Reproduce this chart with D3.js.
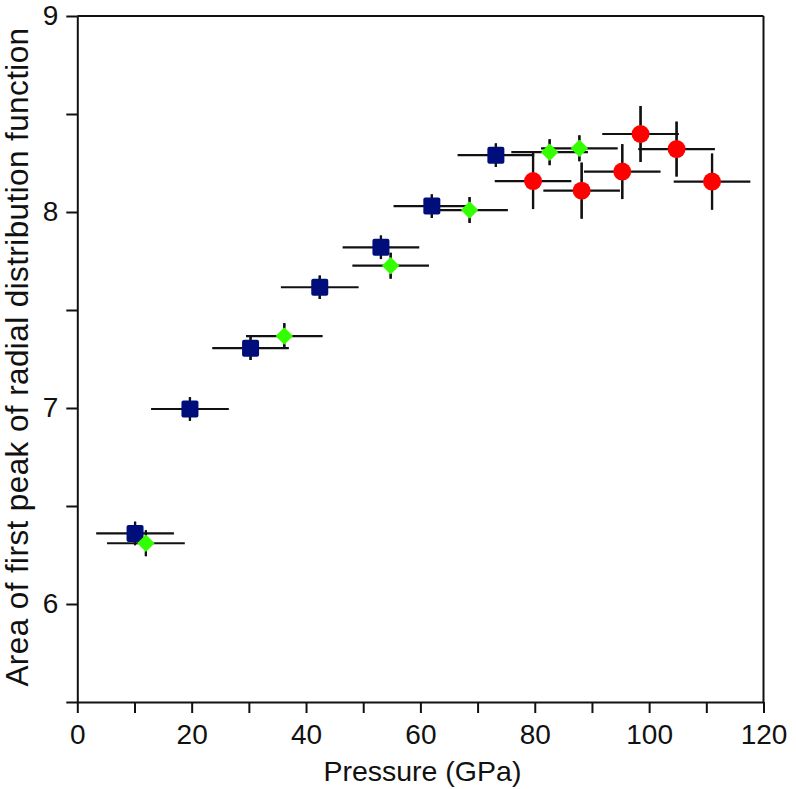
<!DOCTYPE html>
<html>
<head>
<meta charset="utf-8">
<script src="https://cdn.jsdelivr.net/npm/d3@7/dist/d3.min.js"></script>
<style>
  html, body { margin: 0; padding: 0; background: #fff; }
  svg { display: block; }
  text { font-family: "Liberation Sans", Arial, Helvetica, sans-serif; fill: #111; }
</style>
</head>
<body>
<svg id="chart" width="796" height="789"></svg>
<script>
// ---- data ----
const blueX = [10.1, 19.7, 30.3, 42.4, 53.1, 62.0, 73.2];
const blueY = [6.36, 6.995, 7.305, 7.616, 7.82, 8.03, 8.29];
const blueXErr = [6.8, 6.8, 6.7, 6.8, 6.7, 6.7, 6.7];
const blueYErr = [0.06, 0.06, 0.06, 0.06, 0.06, 0.06, 0.06];

const greenX = [12.0, 36.2, 54.8, 68.6, 82.6, 87.8];
const greenY = [6.31, 7.367, 7.726, 8.01, 8.305, 8.325];
const greenXErr = [6.8, 6.7, 6.7, 6.7, 6.7, 6.7];
const greenYErr = [0.066, 0.066, 0.066, 0.066, 0.066, 0.066];

const redX = [79.7, 88.2, 95.3, 98.5, 104.8, 111.0];
const redY = [8.158, 8.109, 8.206, 8.398, 8.321, 8.155];
const redXErr = [6.7, 6.7, 6.7, 6.7, 6.7, 6.7];
const redYErr = [0.143, 0.143, 0.14, 0.143, 0.14, 0.143];

const xTicksMajor = [0, 20, 40, 60, 80, 100, 120];
const xTicksAll = [0, 10, 20, 30, 40, 50, 60, 70, 80, 90, 100, 110, 120];
const yTicksMajor = [6, 7, 8, 9];
const yTicksAll = [5.5, 6, 6.5, 7, 7.5, 8, 8.5, 9];

const xLabel = "Pressure (GPa)";
const yLabel = "Area of first peak of radial distribution function";

// ---- layout ----
const svg = d3.select("#chart");
const L = 77.3, R = 763.5, T = 16, B = 702;
const x = d3.scaleLinear().domain([0, 120]).range([L, R]);
const y = d3.scaleLinear().domain([5.5, 9]).range([B, T]);
const fsTick = 28, fsX = 28.5, fsY = 31.5;
const font = '"Liberation Sans", Arial, sans-serif';

// frame (top and right)
svg.append("line").attr("x1", L).attr("x2", R).attr("y1", T).attr("y2", T)
  .attr("stroke", "#111").attr("stroke-width", 2);
svg.append("line").attr("x1", R).attr("x2", R).attr("y1", T).attr("y2", B)
  .attr("stroke", "#111").attr("stroke-width", 2);

// axes
const xAxis = svg.append("g").attr("transform", `translate(0,${B})`)
  .call(d3.axisBottom(x).tickValues(xTicksAll).tickSize(11).tickSizeOuter(0)
    .tickFormat(d => xTicksMajor.includes(d) ? d : ""));
const yAxis = svg.append("g").attr("transform", `translate(${L},0)`)
  .call(d3.axisLeft(y).tickValues(yTicksAll).tickSize(11).tickSizeOuter(0)
    .tickFormat(d => yTicksMajor.includes(d) ? d : ""));
[xAxis, yAxis].forEach(g => {
  g.select(".domain").attr("stroke", "#111").attr("stroke-width", 2);
  g.selectAll(".tick line").attr("stroke", "#111").attr("stroke-width", 2);
  g.selectAll(".tick text").attr("font-size", fsTick).attr("fill", "#111")
    .style("font-family", font);
});
xAxis.selectAll(".tick text").attr("y", 42).attr("dy", 0);
yAxis.selectAll(".tick text").attr("x", -19);

// axis titles
svg.append("text").attr("x", (L + R) / 2 + 2).attr("y", 781)
  .attr("text-anchor", "middle").attr("font-size", fsX).text(xLabel);
svg.append("text").attr("transform", `translate(28,${(T + B) / 2 - 2}) rotate(-90)`)
  .attr("text-anchor", "middle").attr("font-size", fsY)
  .attr("letter-spacing", 0.4).text(yLabel);

// ---- series ----
function mk(xs, ys, xe, ye) {
  return xs.map((v, i) => ({ x: v, y: ys[i], xe: xe[i], ye: ye[i] }));
}
const blue = mk(blueX, blueY, blueXErr, blueYErr);
const green = mk(greenX, greenY, greenXErr, greenYErr);
const red = mk(redX, redY, redXErr, redYErr);

const errG = svg.append("g").attr("stroke", "#111").attr("stroke-width", 2.2);
function errorBars(data) {
  errG.selectAll(null).data(data).enter().append("line")
    .attr("x1", d => x(d.x - d.xe)).attr("x2", d => x(d.x + d.xe))
    .attr("y1", d => y(d.y)).attr("y2", d => y(d.y));
  errG.selectAll(null).data(data).enter().append("line")
    .attr("x1", d => x(d.x)).attr("x2", d => x(d.x))
    .attr("y1", d => y(d.y - d.ye)).attr("y2", d => y(d.y + d.ye));
}
errorBars(blue); errorBars(green); errorBars(red);

const mG = svg.append("g");
const sq = 17;
mG.selectAll(null).data(blue).enter().append("rect")
  .attr("x", d => x(d.x) - sq / 2).attr("y", d => y(d.y) - sq / 2)
  .attr("width", sq).attr("height", sq).attr("rx", 2)
  .attr("fill", "#000e7c");
const dm = 8.7;
mG.selectAll(null).data(green).enter().append("path")
  .attr("d", d => { const cx = x(d.x), cy = y(d.y);
    return `M${cx},${cy - dm}L${cx + dm},${cy}L${cx},${cy + dm}L${cx - dm},${cy}Z`; })
  .attr("fill", "#33ff00");
mG.selectAll(null).data(red).enter().append("circle")
  .attr("cx", d => x(d.x)).attr("cy", d => y(d.y)).attr("r", 9)
  .attr("fill", "#ff0000");

// error-bar stubs outside the markers (drawn over neighbouring marks, as in the reference)
const topG = svg.append("g").attr("stroke", "#111").attr("stroke-width", 2.2);
[blue, green, red].forEach(data => {
  const h = data === red ? 9 : 8.5;
  topG.selectAll(null).data(data).enter().append("line")
    .attr("x1", d => x(d.x)).attr("x2", d => x(d.x))
    .attr("y1", d => y(d.y + d.ye)).attr("y2", d => y(d.y) - h);
  topG.selectAll(null).data(data).enter().append("line")
    .attr("x1", d => x(d.x)).attr("x2", d => x(d.x))
    .attr("y1", d => y(d.y - d.ye)).attr("y2", d => y(d.y) + h);
});
</script>
</body>
</html>
